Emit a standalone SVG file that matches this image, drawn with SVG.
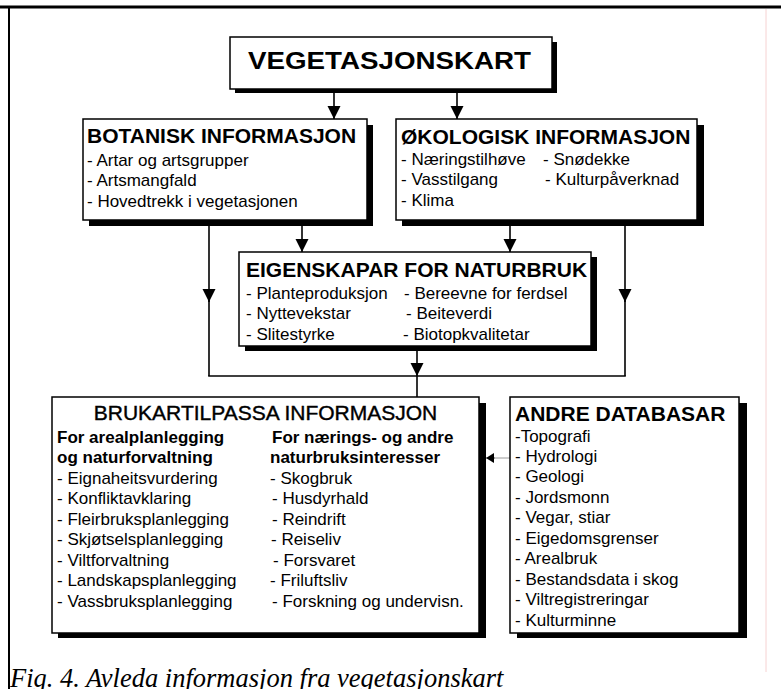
<svg xmlns="http://www.w3.org/2000/svg" width="781" height="689" viewBox="0 0 781 689">
<style>
.bg{fill:#fff}
.box{fill:#fff;stroke:#000;stroke-width:1.5}
.sh{fill:#000}
.t{font-family:"Liberation Sans",Arial,sans-serif;font-size:17px;fill:#000}
.h{font-family:"Liberation Sans",Arial,sans-serif;font-size:21px;font-weight:bold;fill:#000}
.b{font-weight:bold}
.cap{font-family:"Liberation Serif","Times New Roman",serif;font-style:italic;font-size:26.5px;fill:#000}
.conn line{stroke:#000;stroke-width:1.6;fill:none}
</style>
<defs>
<marker id="arr" markerUnits="userSpaceOnUse" markerWidth="14" markerHeight="14" refX="13" refY="6.5" orient="auto">
<path d="M0,0 L13,6.5 L0,13 z" fill="#000"/>
</marker>
<marker id="arrS" markerUnits="userSpaceOnUse" markerWidth="10" markerHeight="10" refX="8" refY="5" orient="auto">
<path d="M0,0 L8,5 L0,10 z" fill="#000"/>
</marker>
</defs>
<rect class="bg" x="0" y="0" width="781" height="689"/>
<g id="frame">
<line x1="0" y1="7" x2="781" y2="7" stroke="#000" stroke-width="3"/>
<line x1="9" y1="7" x2="9" y2="689" stroke="#000" stroke-width="2"/>
<line x1="766" y1="9" x2="766" y2="672" stroke="#f6d2d2" stroke-width="1"/>
</g>
<g class="conn" id="connectors">
<line x1="334" y1="92" x2="334" y2="119" marker-end="url(#arr)"/>
<line x1="457" y1="92" x2="457" y2="119" marker-end="url(#arr)"/>
<line x1="302" y1="222" x2="302" y2="252" marker-end="url(#arr)"/>
<line x1="510" y1="222" x2="510" y2="252" marker-end="url(#arr)"/>
<line x1="209" y1="222" x2="209" y2="302" marker-end="url(#arr)"/>
<line x1="209" y1="300" x2="209" y2="376"/>
<line x1="625" y1="224" x2="625" y2="302" marker-end="url(#arr)"/>
<line x1="625" y1="300" x2="625" y2="376"/>
<line x1="208.2" y1="376" x2="625.8" y2="376"/>
<line x1="417" y1="350" x2="417" y2="376" marker-end="url(#arr)"/>
<line x1="417" y1="376" x2="417" y2="397"/>
<line x1="510" y1="458" x2="492" y2="458" style="stroke:#9a9a9a;stroke-width:1"/>
<line x1="495" y1="458" x2="486" y2="458" style="stroke-width:0.5" marker-end="url(#arrS)"/>
</g>
<g id="vegetasjonskart">
<rect class="sh" x="235" y="42" width="322" height="51"/>
<rect class="box" x="230" y="37" width="322" height="52"/>
<text class="h" x="248" y="69" style="font-size:23px" textLength="283" lengthAdjust="spacingAndGlyphs">VEGETASJONSKART</text>
</g>
<g id="botanisk">
<rect class="sh" x="89" y="125" width="284" height="101"/>
<rect class="box" x="83" y="119" width="284" height="101"/>
<text class="h" x="87" y="143">BOTANISK INFORMASJON</text>
<text class="t" x="87" y="165.5">- Artar og artsgrupper</text>
<text class="t" x="87" y="186">- Artsmangfald</text>
<text class="t" x="87" y="206.5">- Hovedtrekk i vegetasjonen</text>
</g>
<g id="okologisk">
<rect class="sh" x="402" y="125" width="302" height="101"/>
<rect class="box" x="396" y="119" width="301" height="101"/>
<text class="h" x="401" y="144">ØKOLOGISK INFORMASJON</text>
<text class="t" x="401" y="164.5">- Næringstilhøve</text>
<text class="t" x="401" y="185">- Vasstilgang</text>
<text class="t" x="401" y="205.5">- Klima</text>
<text class="t" x="543" y="164.5">- Snødekke</text>
<text class="t" x="545" y="185">- Kulturpåverknad</text>
</g>
<g id="eigenskapar">
<rect class="sh" x="245" y="257" width="352" height="94"/>
<rect class="box" x="239" y="252" width="352" height="94"/>
<text class="h" x="246" y="277">EIGENSKAPAR FOR NATURBRUK</text>
<text class="t" x="246" y="298.5">- Planteproduksjon</text>
<text class="t" x="246" y="319">- Nyttevekstar</text>
<text class="t" x="246" y="340">- Slitestyrke</text>
<text class="t" x="404" y="298.5">- Bereevne for ferdsel</text>
<text class="t" x="406" y="319">- Beiteverdi</text>
<text class="t" x="403" y="340">- Biotopkvalitetar</text>
</g>
<g id="brukartilpassa">
<rect class="sh" x="58" y="403" width="428" height="235"/>
<rect class="box" x="52" y="397" width="427" height="236"/>
<text class="h" x="265.5" y="420" text-anchor="middle" style="font-weight:normal;stroke:#000;stroke-width:0.4">BRUKARTILPASSA INFORMASJON</text>
<text class="t b" x="57" y="443">For arealplanlegging</text>
<text class="t b" x="57" y="463">og naturforvaltning</text>
<text class="t" x="57" y="483.5">- Eignaheitsvurdering</text>
<text class="t" x="57" y="504">- Konfliktavklaring</text>
<text class="t" x="57" y="524.5">- Fleirbruksplanlegging</text>
<text class="t" x="57" y="545">- Skjøtselsplanlegging</text>
<text class="t" x="57" y="565.5">- Viltforvaltning</text>
<text class="t" x="57" y="586">- Landskapsplanlegging</text>
<text class="t" x="57" y="606.5">- Vassbruksplanlegging</text>
<text class="t b" x="272" y="443">For nærings- og andre</text>
<text class="t b" x="270" y="463">naturbruksinteresser</text>
<text class="t" x="270" y="483.5">- Skogbruk</text>
<text class="t" x="272" y="504">- Husdyrhald</text>
<text class="t" x="272" y="524.5">- Reindrift</text>
<text class="t" x="271" y="545">- Reiseliv</text>
<text class="t" x="273" y="565.5">- Forsvaret</text>
<text class="t" x="270" y="586">- Friluftsliv</text>
<text class="t" x="272" y="606.5">- Forskning og undervisn.</text>
</g>
<g id="andre-databasar">
<rect class="sh" x="517" y="403" width="230" height="235"/>
<rect class="box" x="510" y="397" width="229" height="236"/>
<text class="h" x="515" y="421">ANDRE DATABASAR</text>
<text class="t" x="515" y="441.5">-Topografi</text>
<text class="t" x="515" y="462">- Hydrologi</text>
<text class="t" x="515" y="482">- Geologi</text>
<text class="t" x="515" y="502.5">- Jordsmonn</text>
<text class="t" x="515" y="523">- Vegar, stiar</text>
<text class="t" x="515" y="543.5">- Eigedomsgrenser</text>
<text class="t" x="515" y="564">- Arealbruk</text>
<text class="t" x="515" y="584.5">- Bestandsdata i skog</text>
<text class="t" x="515" y="605">- Viltregistreringar</text>
<text class="t" x="515" y="625.5">- Kulturminne</text>
</g>
<text class="cap" x="10" y="687">Fig. 4. Avleda informasjon fra vegetasjonskart</text>
</svg>
